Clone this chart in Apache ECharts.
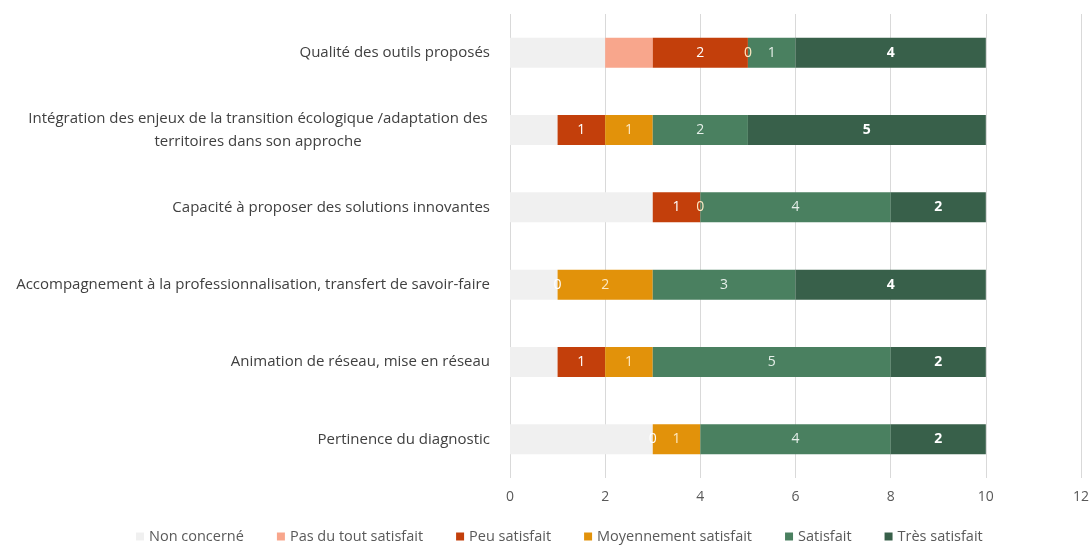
<!DOCTYPE html>
<html><head><meta charset="utf-8">
<script src="https://cdn.jsdelivr.net/npm/echarts@6/dist/echarts.min.js"></script>
<style>html,body{margin:0;padding:0;background:#fff}#c{width:1092px;height:546px}</style>
</head><body><div id="c"></div>
<script>
const categories = [
  "Pertinence du diagnostic",
  "Animation de réseau, mise en réseau",
  "Accompagnement à la professionnalisation, transfert de savoir-faire",
  "Capacité à proposer des solutions innovantes",
  "Intégration des enjeux de la transition écologique /adaptation des\nterritoires dans son approche",
  "Qualité des outils proposés"
];
const nonConcerne   = [3, 1, 1, 3, 1, 2];
const pasDuTout     = [0, 0, 0, 0, 0, 1];
const peuSatisfait  = [0, 1, 0, 1, 1, 2];
const moyennement   = [1, 1, 2, 0, 1, 0];
const satisfait     = [4, 5, 3, 4, 2, 1];
const tresSatisfait = [2, 2, 4, 2, 5, 4];
const xTicks = [0, 2, 4, 6, 8, 10, 12];

const FONT = '"Open Sans"';
function mk(name, data, color, label) {
  return {
    name, type: 'bar', stack: 'total', data, barWidth: 30,
    itemStyle: { color },
    label: Object.assign({ show: !!label, position: 'inside', fontFamily: FONT, fontSize: 14, color: '#fff' }, label || {}),
    emphasis: { disabled: true }
  };
}
const chart = echarts.init(document.getElementById('c'), null, { renderer: 'canvas' });
chart.setOption({
  animation: false,
  grid: { left: 510, right: 11, top: 14, bottom: 68, containLabel: false },
  legend: {
    bottom: -3, left: 131, itemWidth: 8, itemHeight: 8, itemGap: 33,
    icon: 'rect',
    textStyle: { fontFamily: FONT, fontSize: 14.5, color: '#595959' },
    data: ['Non concerné', 'Pas du tout satisfait', 'Peu satisfait', 'Moyennement satisfait', 'Satisfait', 'Très satisfait']
  },
  xAxis: {
    type: 'value', min: 0, max: 12, interval: 2,
    axisLine: { show: false }, axisTick: { show: false },
    splitLine: { lineStyle: { color: '#d9d9d9', width: 1 } },
    axisLabel: { fontFamily: FONT, fontSize: 14, color: '#595959', margin: 12,
      formatter: v => xTicks.includes(v) ? String(v) : '' }
  },
  yAxis: {
    type: 'category', data: categories,
    axisLine: { show: false }, axisTick: { show: false },
    axisLabel: {
      fontFamily: FONT, fontSize: 15, color: '#404040', margin: 20, lineHeight: 23,
      formatter: v => v.indexOf('\n') >= 0 ? v.split('\n').map(s => '{c|' + s + '}').join('\n') : v,
      rich: { c: { width: 464, align: 'center', fontFamily: FONT, fontSize: 15, color: '#404040', lineHeight: 23 } }
    }
  },
  series: [
    mk('Non concerné', nonConcerne, '#f0f0f0'),
    mk('Pas du tout satisfait', pasDuTout, '#f8a68c'),
    mk('Peu satisfait', peuSatisfait, '#c33f0b', {}),
    mk('Moyennement satisfait', moyennement, '#e2920a', { color: '#fde9c4' }),
    mk('Satisfait', satisfait, '#4a8060', { color: '#e6efe9' }),
    mk('Très satisfait', tresSatisfait, '#38604a', { fontWeight: 'bold' })
  ]
});
</script></body></html>
